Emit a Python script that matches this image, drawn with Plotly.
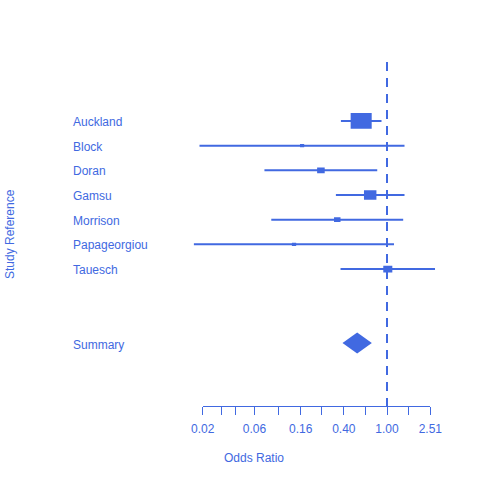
import numpy as np
import plotly.graph_objects as go

# study results (odds ratio with 95% CI)
studies = ["Auckland", "Block", "Doran", "Gamsu", "Morrison", "Papageorgiou", "Tauesch"]
odds_ratio = [0.578, 0.165, 0.246, 0.700, 0.348, 0.139, 1.017]
ci_lower = [0.376, 0.0187, 0.0742, 0.338, 0.0858, 0.0166, 0.373]
ci_upper = [0.890, 1.45, 0.813, 1.45, 1.41, 1.16, 2.77]
std_err = [0.220, 1.110, 0.611, 0.372, 0.715, 1.083, 0.512]

summary_label = "Summary"
summary_or = 0.531
summary_lower = 0.389
summary_upper = 0.725

tick_values = [0.02, 0.03, 0.04, 0.06, 0.10, 0.16, 0.25, 0.40, 0.63, 1.00, 1.58, 2.51]
tick_labels = ["0.02", "", "", "0.06", "", "0.16", "", "0.40", "", "1.00", "", "2.51"]

BLUE = "#4169E1"
FONT = "Liberation Sans, Arial, sans-serif"
W, H = 480, 480

# pixel geometry of the x scale: where OR=1 sits and pixels per decade
x_one = 387
px_per_dec = 108.5
row_px = 24.67
y_top, y_bottom = -2.39, 11.55


def px_to_log(px):
    return (px - x_one) / px_per_dec


def log_to_px(v):
    return x_one + px_per_dec * np.log10(v)


rows = list(range(len(studies)))
summary_row = len(studies) + 2

fig = go.Figure()

# confidence interval lines
ci_x, ci_y = [], []
for r, lo, hi in zip(rows, ci_lower, ci_upper):
    ci_x += [lo, hi, None]
    ci_y += [r, r, None]
fig.add_trace(go.Scatter(x=ci_x, y=ci_y, mode="lines",
                         line=dict(color=BLUE, width=2), hoverinfo="skip"))

# boxes sized by precision
box_x, box_y = [], []
for r, o, se in zip(rows, odds_ratio, std_err):
    w_px = 4.63 / se
    hw = w_px / 2 / px_per_dec
    hh = 0.75 * w_px / 2 / row_px
    x0, x1 = o * 10 ** -hw, o * 10 ** hw
    box_x += [x0, x1, x1, x0, x0, None]
    box_y += [r - hh, r - hh, r + hh, r + hh, r - hh, None]
fig.add_trace(go.Scatter(x=box_x, y=box_y, mode="lines", fill="toself",
                         fillcolor=BLUE, line=dict(color=BLUE, width=0),
                         hoverinfo="skip"))

# summary diamond
dh = 10.5 / row_px
fig.add_trace(go.Scatter(
    x=[summary_lower, summary_or, summary_upper, summary_or, summary_lower],
    y=[summary_row, summary_row - dh, summary_row, summary_row + dh, summary_row],
    mode="lines", fill="toself", fillcolor=BLUE,
    line=dict(color=BLUE, width=0), hoverinfo="skip"))

# null line at OR = 1
fig.add_trace(go.Scatter(x=[1, 1], y=[y_top, y_bottom], mode="lines",
                         line=dict(color=BLUE, width=2, dash="9px,7px"),
                         hoverinfo="skip"))

# invisible trace so the tick axis gets drawn
fig.add_trace(go.Scatter(x=[tick_values[0], tick_values[-1]], y=[y_bottom, y_bottom],
                         xaxis="x2", mode="markers", marker=dict(opacity=0),
                         hoverinfo="skip"))

annotations = []
for r, name in zip(rows + [summary_row], studies + [summary_label]):
    annotations.append(dict(x=71 / W, xref="paper", y=r, yref="y", text=name,
                            xanchor="left", yanchor="middle", showarrow=False,
                            yshift=-1.5 if r == summary_row else -1,
                            font=dict(family=FONT, size=12, color=BLUE)))
annotations.append(dict(x=254 / W, y=1 - 458 / H, xref="paper", yref="paper",
                        text="Odds Ratio", showarrow=False, xanchor="center",
                        yanchor="middle", font=dict(family=FONT, size=12, color=BLUE)))
annotations.append(dict(x=10 / W, y=1 - 234 / H, xref="paper", yref="paper",
                        text="Study Reference", textangle=-90, showarrow=False,
                        xanchor="center", yanchor="middle",
                        font=dict(family=FONT, size=12, color=BLUE)))

fig.update_layout(
    width=W, height=H,
    margin=dict(l=0, r=0, t=0, b=0, autoexpand=False),
    paper_bgcolor="white", plot_bgcolor="rgba(0,0,0,0)",
    showlegend=False,
    annotations=annotations,
    xaxis=dict(type="log", domain=[0, 1], range=[px_to_log(0), px_to_log(W)],
               visible=False),
    xaxis2=dict(type="log", anchor="y",
                domain=[log_to_px(tick_values[0]) / W, log_to_px(tick_values[-1]) / W],
                range=[np.log10(tick_values[0]), np.log10(tick_values[-1])],
                showline=True, linecolor=BLUE, linewidth=1,
                ticks="outside", ticklen=8, tickcolor=BLUE, tickwidth=1,
                tickvals=tick_values, ticktext=tick_labels, ticklabelstandoff=4,
                tickfont=dict(family=FONT, size=12, color=BLUE),
                showgrid=False, zeroline=False),
    yaxis=dict(range=[y_bottom, y_top], domain=[1 - 406 / H, 1 - 62 / H],
               visible=False),
)

# drop the default page margin so the figure sits at the window's corner
fig.write_html("out.html", config={"displayModeBar": False},
               post_script="document.body.style.margin = '0';")
